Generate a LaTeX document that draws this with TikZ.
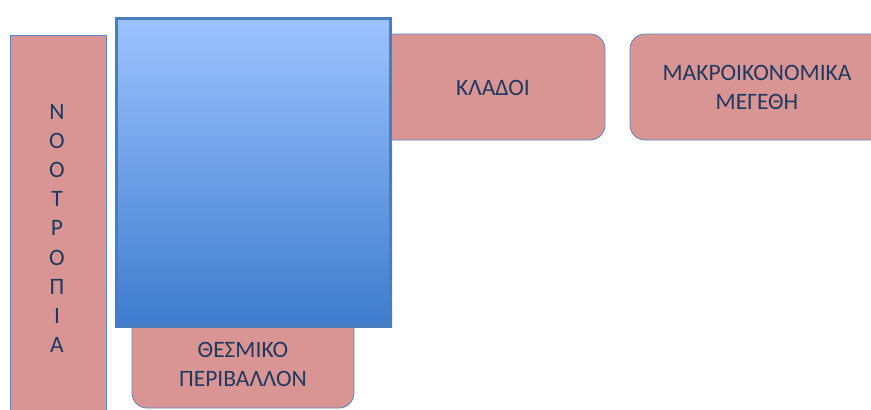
\documentclass[tikz,border=0pt]{standalone}
\usepackage{fontspec}
\setmainfont{Carlito}
\definecolor{pinkfill}{HTML}{D99594}
\definecolor{edgeblue}{HTML}{5B87C0}
\definecolor{boxblue}{HTML}{4A7EBB}
\definecolor{txtblue}{HTML}{1F3A60}
\definecolor{gradtop}{HTML}{9DC3FF}
\definecolor{gradbot}{HTML}{3D7CCD}
\tikzset{
  pinkbox/.style={fill=pinkfill, draw=edgeblue, line width=0.8pt},
  lbl/.style={text=txtblue, font=\fontsize{23.5}{29}\selectfont, align=center, inner sep=0pt},
}
\begin{document}
\begin{tikzpicture}[x=1pt,y=-1pt]
\useasboundingbox (0,0) rectangle (871,410);
% left tall box
\draw[pinkbox] (10,415) -- (10,35) -- (106,35) -- (106,415);
\foreach \ch [count=\i from 0] in {Ν,Ο,Ο,Τ,Ρ,Ο,Π,Ι,Α}
  \node[lbl] (n\i) at (57,112+29.1*\i) {\ch};
% kladoi
\draw[pinkbox, rounded corners=15pt] (375,34) rectangle (605,140);
\node[lbl] (kladoi) at (493,88) {ΚΛΑΔΟΙ};
% makro
\draw[pinkbox, rounded corners=15pt] (630,34) rectangle (900,140);
\node[lbl] (makro) at (757,87.5) {ΜΑΚΡΟΙΚΟΝΟΜΙΚΑ\\ΜΕΓΕΘΗ};
% thesmiko
\draw[pinkbox, rounded corners=15pt] (132,300) rectangle (354,408);
\node[lbl] (thesm) at (243,364) {ΘΕΣΜΙΚΟ\\ΠΕΡΙΒΑΛΛΟΝ};
% blue box
\shade[top color=gradtop, bottom color=gradbot] (115,17) rectangle (392,327);
\draw[boxblue, line width=3pt] (116.5,18.5) rectangle (390.5,325.5);
\end{tikzpicture}
\end{document}
